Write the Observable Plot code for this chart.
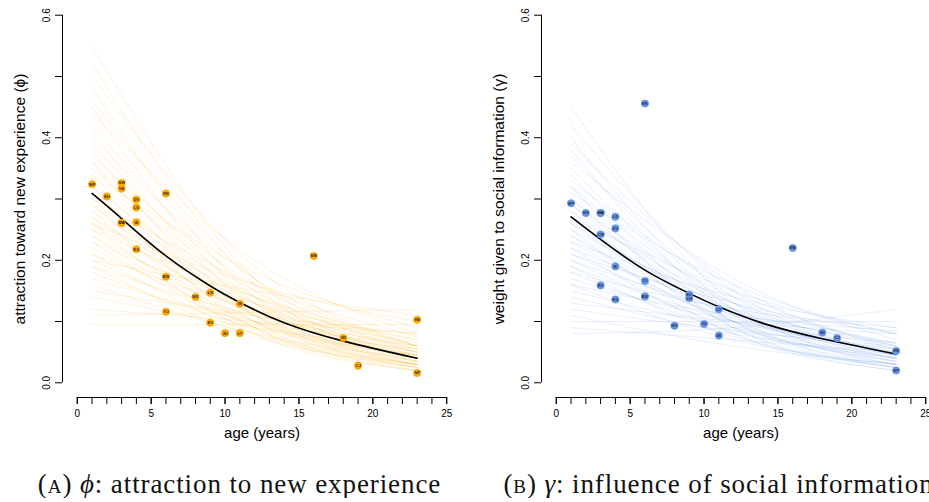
<!DOCTYPE html>
<html>
<head>
<meta charset="utf-8">
<script src="https://cdn.jsdelivr.net/npm/d3@7"></script>
<script src="https://cdn.jsdelivr.net/npm/@observablehq/plot@0.6"></script>
<style>
  html, body { margin: 0; padding: 0; background: #fff; overflow: hidden; }
  #wrap { display: flex; flex-wrap: nowrap; width: 958px; }
  .panel { width: 479px; flex: none; }
  .cap { font-family: "Liberation Serif", "DejaVu Serif", serif; font-size: 27px; letter-spacing: 0.9px; text-align: center; white-space: nowrap; padding-top: 19px; line-height: 1; color: #111; }
  .sc { font-variant: small-caps; }
</style>
</head>
<body>
<div id="wrap">
  <div class="panel" id="pA"></div>
  <div class="panel" id="pB"></div>
</div>
<script>
// ---- data ----
const children = ["WP","EH","GW","VA","CW","RZ","DV","LD","IE","EG","RK","BW","YJ","MX","LN","EV","JU","IB","LT","MB","MI","CJ","HE","NP"];
const ages     = [1,   2,   3,   3,   3,   3,   4,   4,   4,   4,   6,   6,   6,   8,   9,   9,   10,  11,  11,  16,  18,  19,  23,  23];
const phiObs   = [0.324,0.304,0.326,0.317,0.261,0.261,0.299,0.286,0.262,0.218,0.309,0.173,0.116,0.140,0.147,0.098,0.081,0.129,0.081,0.207,0.073,0.028,0.103,0.016];
const gammaObs = [0.293,0.277,0.277,0.277,0.242,0.159,0.252,0.271,0.190,0.136,0.456,0.141,0.166,0.093,0.138,0.144,0.096,0.077,0.120,0.220,0.082,0.073,0.052,0.020];

// posterior mean curves read at these ages
const meanAges  = [1, 3, 6, 9, 11, 14, 18, 23];
const phiMean   = [0.309, 0.268, 0.207, 0.158, 0.131, 0.098, 0.068, 0.040];
const gammaMean = [0.271, 0.234, 0.184, 0.146, 0.124, 0.097, 0.072, 0.047];

// posterior sample curves: values at ages 1, 12, 23
const sampleAges = [1, 12, 23];
const phiSamples = [
  [0.55,0.17,0.04],[0.52,0.16,0.035],[0.50,0.19,0.06],[0.48,0.14,0.03],[0.46,0.17,0.05],
  [0.45,0.13,0.03],[0.44,0.20,0.08],[0.42,0.15,0.045],[0.41,0.12,0.025],[0.40,0.17,0.06],
  [0.39,0.14,0.04],[0.38,0.11,0.025],[0.37,0.16,0.06],[0.36,0.13,0.04],[0.36,0.10,0.02],
  [0.35,0.15,0.055],[0.34,0.12,0.035],[0.34,0.18,0.09],[0.33,0.11,0.03],[0.32,0.14,0.05],
  [0.32,0.09,0.02],[0.31,0.13,0.045],[0.30,0.11,0.035],[0.30,0.16,0.075],[0.29,0.10,0.03],
  [0.29,0.12,0.045],[0.28,0.14,0.06],[0.28,0.09,0.025],[0.27,0.11,0.04],[0.27,0.13,0.055],
  [0.26,0.08,0.02],[0.26,0.12,0.05],[0.25,0.10,0.035],[0.25,0.14,0.07],[0.24,0.09,0.03],
  [0.24,0.115,0.05],[0.23,0.13,0.07],[0.23,0.085,0.03],[0.22,0.10,0.045],[0.21,0.12,0.065],
  [0.21,0.08,0.025],[0.20,0.095,0.045],[0.19,0.11,0.06],[0.19,0.075,0.03],[0.18,0.09,0.045],
  [0.17,0.10,0.06],[0.16,0.08,0.04],[0.15,0.11,0.08],[0.14,0.09,0.055],[0.12,0.10,0.08],
  [0.11,0.115,0.12],[0.095,0.095,0.095],[0.20,0.15,0.11],[0.26,0.16,0.10]
];
const gammaSamples = [
  [0.45,0.13,0.03],[0.42,0.15,0.045],[0.40,0.12,0.03],[0.39,0.16,0.055],[0.38,0.11,0.025],
  [0.37,0.14,0.045],[0.36,0.17,0.07],[0.35,0.12,0.035],[0.34,0.10,0.025],[0.33,0.15,0.06],
  [0.32,0.13,0.045],[0.32,0.09,0.02],[0.31,0.16,0.08],[0.30,0.12,0.04],[0.30,0.10,0.03],
  [0.29,0.14,0.06],[0.29,0.115,0.045],[0.28,0.09,0.025],[0.28,0.13,0.055],[0.27,0.11,0.04],
  [0.27,0.15,0.08],[0.26,0.10,0.035],[0.26,0.12,0.05],[0.25,0.08,0.02],[0.25,0.13,0.065],
  [0.24,0.11,0.045],[0.24,0.095,0.035],[0.23,0.14,0.09],[0.23,0.10,0.04],[0.22,0.12,0.06],
  [0.22,0.08,0.025],[0.21,0.105,0.05],[0.21,0.13,0.08],[0.20,0.09,0.04],[0.20,0.115,0.065],
  [0.19,0.075,0.03],[0.19,0.10,0.055],[0.18,0.12,0.09],[0.18,0.085,0.04],[0.17,0.10,0.065],
  [0.16,0.07,0.03],[0.16,0.11,0.085],[0.15,0.09,0.055],[0.14,0.08,0.045],[0.13,0.10,0.08],
  [0.12,0.085,0.06],[0.10,0.10,0.10],[0.08,0.09,0.12],[0.09,0.07,0.05],[0.11,0.06,0.03]
];

const xTicks = d3.range(0, 26, 1);
const xLabelTicks = [0, 5, 10, 15, 20, 25];
const yTicks = [0, 0.1, 0.2, 0.3, 0.4, 0.5, 0.6];
const yLabelTicks = [0, 0.2, 0.4, 0.6];
const xDomain = [-1, 26];
const yDomain = [-0.024, 0.624];

function panel(obs, meanVals, samples, color, ylab) {
  const pts = children.map((c, i) => ({c, age: ages[i], v: obs[i]}));
  const samp = samples.flatMap((s, k) => s.map((v, j) => ({k, age: sampleAges[j], v})));
  const mean = meanAges.map((a, i) => ({age: a, v: meanVals[i]}));
  const font = "Liberation Sans, Arial, Helvetica, sans-serif";
  return Plot.plot({
    width: 479, height: 452,
    marginLeft: 62, marginRight: 18, marginTop: 0, marginBottom: 55,
    style: {fontFamily: font, background: "white", color: "#000"},
    x: {domain: xDomain, axis: null},
    y: {domain: yDomain, axis: null},
    marks: [
      Plot.line(samp, {x: "age", y: "v", z: "k", stroke: color, strokeOpacity: 0.15, strokeWidth: 1, curve: "monotone-x"}),
      Plot.line(mean, {x: "age", y: "v", stroke: "#000", strokeWidth: 1.6, curve: "natural"}),
      Plot.dot(pts, {x: "age", y: "v", r: 3.8, fill: color, stroke: color, strokeOpacity: 0.5, strokeWidth: 0.6}),
      Plot.text(pts, {x: "age", y: "v", text: "c", fontSize: 4.2, fill: "#333", fontWeight: "bold"}),
      // axes (R style, detached)
      Plot.ruleY([yDomain[0]], {x1: d3.min(xTicks), x2: d3.max(xTicks), stroke: "#000", strokeWidth: 1}),
      Plot.axisX({ticks: xTicks, tickSize: 7, tickFormat: () => "", label: null, stroke: "#000"}),
      Plot.axisX({ticks: xLabelTicks, tickSize: 7, tickPadding: 5, fontSize: 10, label: null, tickFormat: d => String(d), stroke: "#000"}),
      Plot.ruleX([xDomain[0]], {y1: d3.min(yTicks), y2: d3.max(yTicks), stroke: "#000", strokeWidth: 1}),
      Plot.axisY({ticks: yTicks, tickSize: 7, tickFormat: () => "", label: null, stroke: "#000"}),
      Plot.text(yLabelTicks, {y: d => d, frameAnchor: "left", textAnchor: "middle", dx: -16, rotate: -90, text: d => d.toFixed(1), fontSize: 10, fill: "#000"}),
      Plot.text(["age (years)"], {frameAnchor: "bottom", dy: 40, fontSize: 15, fill: "#000"}),
      Plot.text([ylab], {frameAnchor: "left", textAnchor: "middle", dx: -42, rotate: -90, fontSize: 15.5, fill: "#000"})
    ]
  });
}

document.getElementById("pA").append(panel(phiObs, phiMean, phiSamples, "#FFA500", "attraction toward new experience (\u03D5)"));
const capA = document.createElement("div"); capA.className = "cap";
capA.innerHTML = '(<span class="sc">a</span>) <i>\u03D5</i>: attraction to new experience';
document.getElementById("pA").append(capA);

document.getElementById("pB").append(panel(gammaObs, gammaMean, gammaSamples, "#6495ED", "weight given to social information (\u03B3)"));
const capB = document.createElement("div"); capB.className = "cap";
capB.innerHTML = '(<span class="sc">b</span>) <i>\u03B3</i>: influence of social information';
document.getElementById("pB").append(capB);
</script>
</body>
</html>
